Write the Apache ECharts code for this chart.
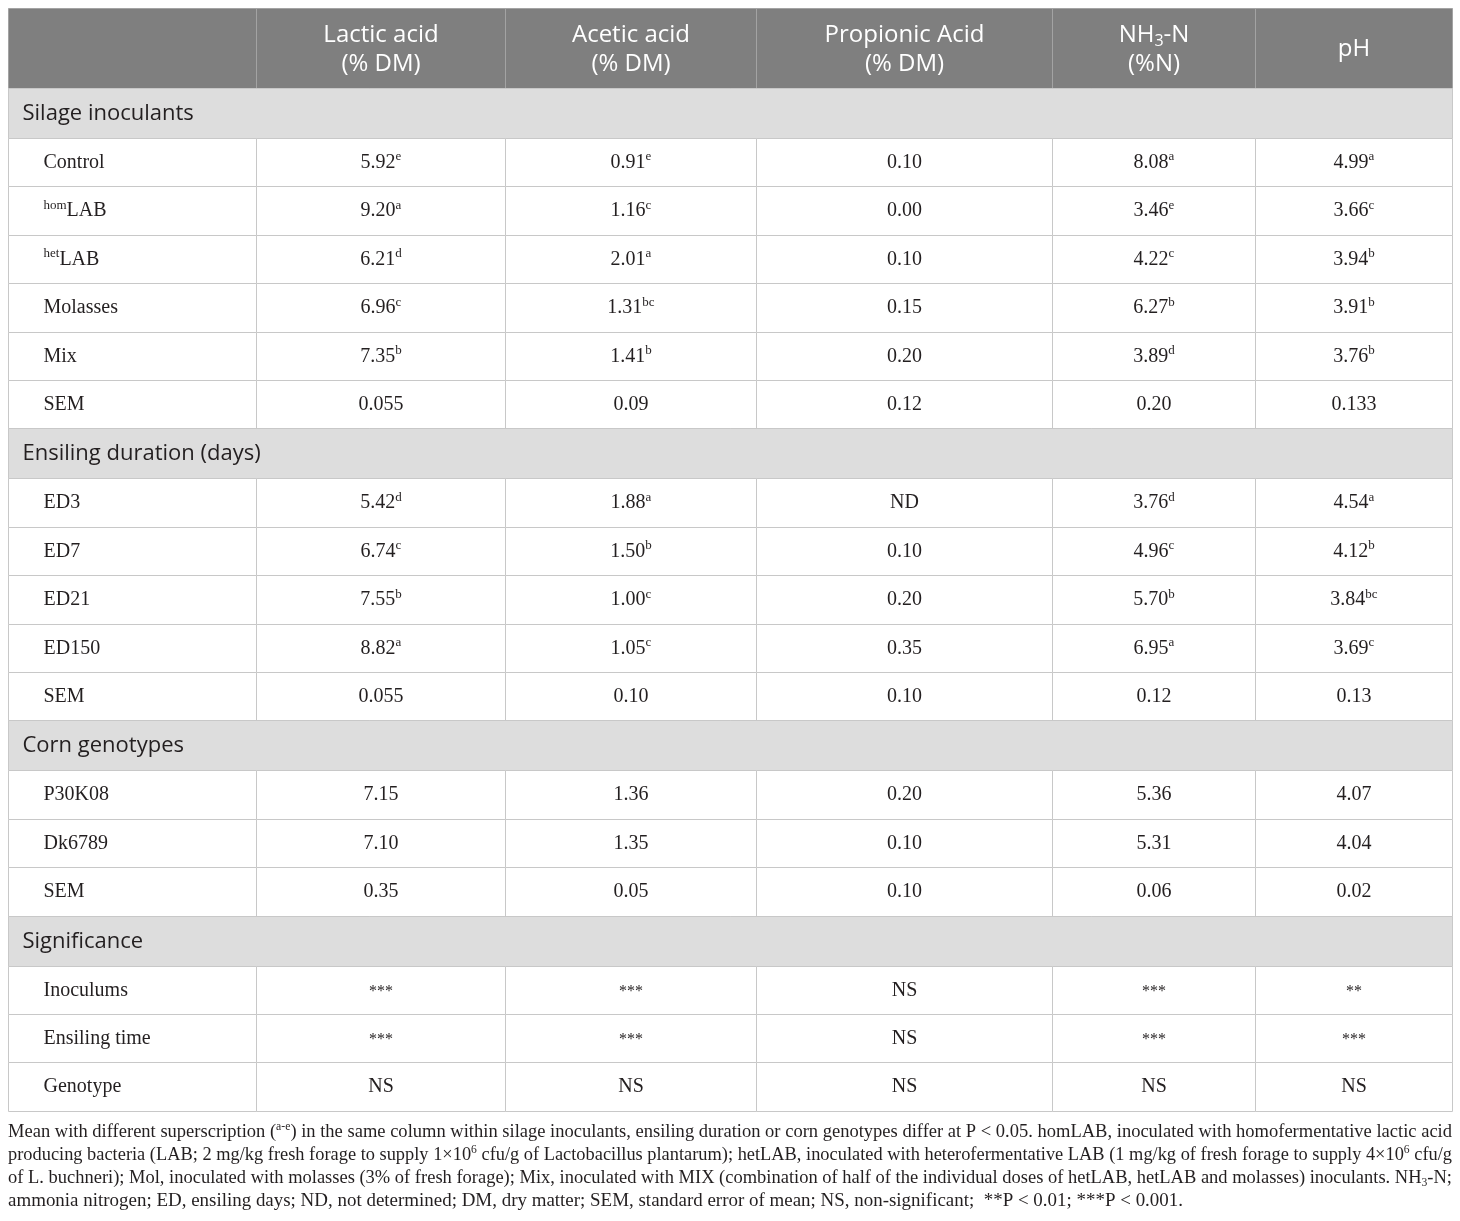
<!DOCTYPE html>
<html>
<head>
<meta charset="utf-8">
<script src="https://cdn.jsdelivr.net/npm/echarts@6/dist/echarts.min.js"></script>
<style>
html, body { margin: 0; padding: 0; background: #fff; }
#main { width: 1460px; height: 1221px; }
</style>
</head>
<body>
<div id="main"></div>
<script>
// table content ("_x" = subscript, "^x^" = superscript prefix)
const columnHeaders = ['Lactic acid\n(% DM)', 'Acetic acid\n(% DM)', 'Propionic Acid\n(% DM)', 'NH_3-N\n(%N)', 'pH']
const sectionNames = ['Silage inoculants', 'Ensiling duration (days)', 'Corn genotypes', 'Significance']

const inoculantRows = ['Control', '^hom^LAB', '^het^LAB', 'Molasses', 'Mix', 'SEM']
const inoculantValues = [
    ['5.92', '0.91', '0.10', '8.08', '4.99'],
    ['9.20', '1.16', '0.00', '3.46', '3.66'],
    ['6.21', '2.01', '0.10', '4.22', '3.94'],
    ['6.96', '1.31', '0.15', '6.27', '3.91'],
    ['7.35', '1.41', '0.20', '3.89', '3.76'],
    ['0.055', '0.09', '0.12', '0.20', '0.133']
]
const inoculantLetters = [
    ['e', 'e', '', 'a', 'a'],
    ['a', 'c', '', 'e', 'c'],
    ['d', 'a', '', 'c', 'b'],
    ['c', 'bc', '', 'b', 'b'],
    ['b', 'b', '', 'd', 'b'],
    ['', '', '', '', '']
]

const durationRows = ['ED3', 'ED7', 'ED21', 'ED150', 'SEM']
const durationValues = [
    ['5.42', '1.88', 'ND', '3.76', '4.54'],
    ['6.74', '1.50', '0.10', '4.96', '4.12'],
    ['7.55', '1.00', '0.20', '5.70', '3.84'],
    ['8.82', '1.05', '0.35', '6.95', '3.69'],
    ['0.055', '0.10', '0.10', '0.12', '0.13']
]
const durationLetters = [
    ['d', 'a', '', 'd', 'a'],
    ['c', 'b', '', 'c', 'b'],
    ['b', 'c', '', 'b', 'bc'],
    ['a', 'c', '', 'a', 'c'],
    ['', '', '', '', '']
]

const genotypeRows = ['P30K08', 'Dk6789', 'SEM']
const genotypeValues = [
    ['7.15', '1.36', '0.20', '5.36', '4.07'],
    ['7.10', '1.35', '0.10', '5.31', '4.04'],
    ['0.35', '0.05', '0.10', '0.06', '0.02']
]

const significanceRows = ['Inoculums', 'Ensiling time', 'Genotype']
const significanceValues = [
    ['***', '***', 'NS', '***', '**'],
    ['***', '***', 'NS', '***', '***'],
    ['NS', 'NS', 'NS', 'NS', 'NS']
]

const footnoteLines = [
    [['n', 'Mean with different superscription ('], ['s', 'a-e'], ['n', ') in the same column within silage inoculants, ensiling duration or corn genotypes differ at P < 0.05. homLAB, inoculated with homofermentative lactic acid']],
    [['n', 'producing bacteria (LAB; 2 mg/kg fresh forage to supply 1×10'], ['s', '6'], ['n', ' cfu/g of Lactobacillus plantarum); hetLAB, inoculated with heterofermentative LAB (1 mg/kg of fresh forage to supply 4×10'], ['s', '6'], ['n', ' cfu/g']],
    [['n', 'of L. buchneri); Mol, inoculated with molasses (3% of fresh forage); Mix, inoculated with MIX (combination of half of the individual doses of hetLAB, hetLAB and molasses) inoculants. NH'], ['b', '3'], ['n', '-N;']],
    [['n', 'ammonia nitrogen; ED, ensiling days; ND, not determined; DM, dry matter; SEM, standard error of mean; NS, non-significant;  **P < 0.01; ***P < 0.001.']]
]

// layout
const colWidths = [248, 249, 251, 296, 203, 197]
const headerH = 80
const sectionH = 50
const rowH = 48.4
const textColor = '#231f20'
const serif = '"Liberation Serif", "DejaVu Serif", serif'
const sans = '"Open Sans", "Noto Sans", sans-serif'

const colEdges = [0]
colWidths.forEach(w => colEdges.push(colEdges[colEdges.length - 1] + w))
const totalW = colEdges[colEdges.length - 1]

const groups = [
    {name: sectionNames[0], rows: inoculantRows, values: inoculantValues, letters: inoculantLetters},
    {name: sectionNames[1], rows: durationRows, values: durationValues, letters: durationLetters},
    {name: sectionNames[2], rows: genotypeRows, values: genotypeValues},
    {name: sectionNames[3], rows: significanceRows, values: significanceValues}
]

function headerRich(str) {
    return str.split('\n').map(line =>
        ('{h|' + line.replace(/_(\w)/g, '}{hs|$1}{h|') + '}').replace(/\{h\|\}/g, '')
    ).join('\n')
}

function labelRich(str) {
    let m = str.match(/^\^(.+)\^(.*)$/)
    if (m) return '{s|' + m[1] + '}{v|' + m[2] + '}'
    return '{v|' + str + '}'
}

function valueRich(v, l) {
    if (v.indexOf('*') >= 0) return '{st|' + v + '}'
    return '{v|' + v + '}' + (l ? '{s|' + l + '}' : '')
}

// build the cell list: header row, then one section row + data rows per group
let cells = []
for (let c = 0; c < colEdges.length - 1; c++) {
    cells.push({x0: colEdges[c], x1: colEdges[c + 1], y0: 0, y1: headerH, kind: 'header',
        text: c === 0 ? '' : headerRich(columnHeaders[c - 1])})
}
let y = headerH
groups.forEach(g => {
    cells.push({x0: 0, x1: totalW, y0: y, y1: y + sectionH, kind: 'section', text: g.name})
    y += sectionH
    g.rows.forEach((r, i) => {
        cells.push({x0: colEdges[0], x1: colEdges[1], y0: y, y1: y + rowH, kind: 'label', text: labelRich(r)})
        g.values[i].forEach((v, j) => {
            let l = g.letters ? g.letters[i][j] : ''
            cells.push({x0: colEdges[j + 1], x1: colEdges[j + 2], y0: y, y1: y + rowH, kind: 'value', text: valueRich(v, l)})
        })
        y += rowH
    })
})
const totalH = y

const bodyRich = {
    v: {fontFamily: serif, fontSize: 20, lineHeight: 24, fill: textColor},
    s: {fontFamily: serif, fontSize: 13, lineHeight: 13, verticalAlign: 'top', fill: textColor},
    st: {fontFamily: serif, fontSize: 16, lineHeight: 24, fill: textColor, padding: [3, 0, 0, 0]}
}
const headRich = {
    h: {fontFamily: sans, fontSize: 24, lineHeight: 29, fill: '#fff'},
    hs: {fontFamily: sans, fontSize: 16, lineHeight: 16, verticalAlign: 'bottom', fill: '#fff'}
}

function renderItem(params, api) {
    let c = cells[params.dataIndex]
    let p0 = api.coord([c.x0, c.y0])
    let p1 = api.coord([c.x1, c.y1])
    let x0 = Math.round(p0[0]) + 0.5, y0 = Math.round(p0[1]) + 0.5
    let x1 = Math.round(p1[0]) + 0.5, y1 = Math.round(p1[1]) + 0.5
    let cy = (y0 + y1) / 2
    let fill = '#fff', stroke = '#c8c8c8'
    if (c.kind === 'header') { fill = '#7f7f7f'; stroke = '#a3a3a3' }
    if (c.kind === 'section') { fill = '#dddddd' }
    let children = [{
        type: 'rect',
        shape: {x: x0, y: y0, width: x1 - x0, height: y1 - y0},
        style: {fill: fill, stroke: stroke, lineWidth: 1}
    }]
    if (c.text) {
        let style
        if (c.kind === 'header') {
            style = {text: c.text, x: (x0 + x1) / 2, y: cy + 1, align: 'center', verticalAlign: 'middle', rich: headRich, fill: '#fff'}
        } else if (c.kind === 'section') {
            style = {text: c.text, x: x0 + 14, y: cy, align: 'left', verticalAlign: 'middle',
                fontFamily: sans, fontSize: 22, fill: textColor}
        } else if (c.kind === 'label') {
            style = {text: c.text, x: x0 + 35, y: cy, align: 'left', verticalAlign: 'middle', rich: bodyRich, fill: textColor}
        } else {
            style = {text: c.text, x: (x0 + x1) / 2, y: cy, align: 'center', verticalAlign: 'middle', rich: bodyRich, fill: textColor}
        }
        children.push({type: 'text', style: style})
    }
    return {type: 'group', children: children}
}

// footnote, stretched to justify like the original
const footSizes = {n: 19, s: 12, b: 12}
const footTargets = [1444, 1444, 1444, 1175]
const measureCtx = document.createElement('canvas').getContext('2d')
function measure(segs) {
    let w = 0
    segs.forEach(([k, t]) => {
        measureCtx.font = footSizes[k] + 'px ' + serif
        w += measureCtx.measureText(t).width
    })
    return w
}
const footRich = {
    n: {fontFamily: serif, fontSize: footSizes.n, lineHeight: 22, fill: textColor},
    s: {fontFamily: serif, fontSize: footSizes.s, lineHeight: 12, verticalAlign: 'top', fill: textColor},
    b: {fontFamily: serif, fontSize: footSizes.b, lineHeight: 12, verticalAlign: 'bottom', fill: textColor}
}
const footGraphics = footnoteLines.map((segs, i) => ({
    type: 'text',
    x: 8,
    y: 1132 + i * 23,
    scaleX: footTargets[i] / measure(segs),
    silent: true,
    style: {
        text: segs.map(([k, t]) => '{' + k + '|' + t + '}').join(''),
        rich: footRich,
        verticalAlign: 'middle',
        align: 'left',
        fill: textColor
    }
}))

let chart = echarts.init(document.getElementById('main'))
chart.setOption({
    backgroundColor: '#fff',
    animation: false,
    grid: {left: 8, top: 8, width: totalW, height: totalH},
    xAxis: {type: 'value', min: 0, max: totalW, show: false},
    yAxis: {type: 'value', min: 0, max: totalH, inverse: true, show: false},
    series: [{
        type: 'custom',
        renderItem: renderItem,
        clip: false,
        silent: true,
        encode: {x: [0, 2], y: [1, 3]},
        data: cells.map(c => [c.x0, c.y0, c.x1, c.y1])
    }],
    graphic: footGraphics
})
</script>
</body>
</html>
